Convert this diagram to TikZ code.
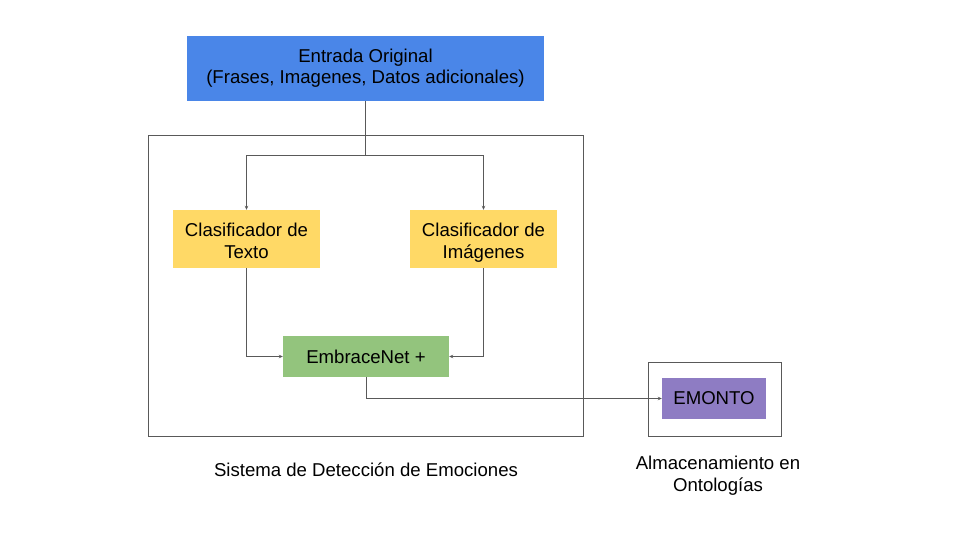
\documentclass[tikz,border=0pt]{standalone}
\usepackage{fontspec}
\setmainfont{Liberation Sans}
\usetikzlibrary{arrows.meta}
\definecolor{cblue}{HTML}{4A86E8}
\definecolor{cyellow}{HTML}{FFD966}
\definecolor{cgreen}{HTML}{93C47D}
\definecolor{cpurple}{HTML}{8E7CC3}
\definecolor{cline}{HTML}{595959}
\tikzset{
  box/.style={draw=none, inner sep=0pt, align=center, font=\fontsize{18.6}{21.5}\selectfont},
  txt/.style={inner sep=0pt, align=center, font=\fontsize{18.6}{21.5}\selectfont},
  frame/.style={draw=cline, line width=0.9pt},
  conn/.style={draw=cline, line width=0.9pt, -{Stealth[length=4pt,width=3.5pt]}},
  lbl/.style={align=center, font=\fontsize{18.6}{22}\selectfont, inner sep=0pt}
}
\begin{document}
\begin{tikzpicture}[x=1pt,y=-1pt]
\useasboundingbox (0,0) rectangle (960,540);
\fill[white] (0,0) rectangle (960,540);
% frames
\draw[frame] (148,135) rectangle (583,436);
\draw[frame] (648,362) rectangle (781,436);
% boxes
\node[box, fill=cblue, minimum width=357pt, minimum height=65pt] (inp) at (365.5,68.5) {\strut Entrada Original\\\strut (Frases, Imagenes, Datos adicionales)};
\node[box, fill=cyellow, minimum width=147pt, minimum height=58pt] (ct) at (246.5,239) {};
\node[txt, yshift=-4pt] (ctt) at (ct.center) {\strut Clasificador de\\\strut Texto};
\node[box, fill=cyellow, minimum width=147pt, minimum height=58pt] (ci) at (483.5,239) {};
\node[txt, yshift=-4pt] (cit) at (ci.center) {\strut Clasificador de\\\strut Imágenes};
\node[box, fill=cgreen, minimum width=166pt, minimum height=41pt] (em) at (366,356.5) {EmbraceNet +};
\node[box, fill=cpurple, minimum width=104pt, minimum height=41pt] (eo) at (714,398.5) {EMONTO};
% labels
\node[lbl] (l1) at (366,470) {Sistema de Detección de Emociones};
\node[lbl] (l2) at (718,476) {\strut Almacenamiento en\\\strut Ontologías};
% connectors
\coordinate (split) at (inp.south |- 0,155);
\draw[draw=cline, line width=0.9pt] (inp.south) -- (split);
\draw[conn] (split) -| (ct.north);
\draw[conn] (split) -| (ci.north);
\draw[conn] (ct.south) |- (em.west);
\draw[conn] (ci.south) |- (em.east);
\draw[conn] (em.south) |- (eo.west);
\end{tikzpicture}
\end{document}
